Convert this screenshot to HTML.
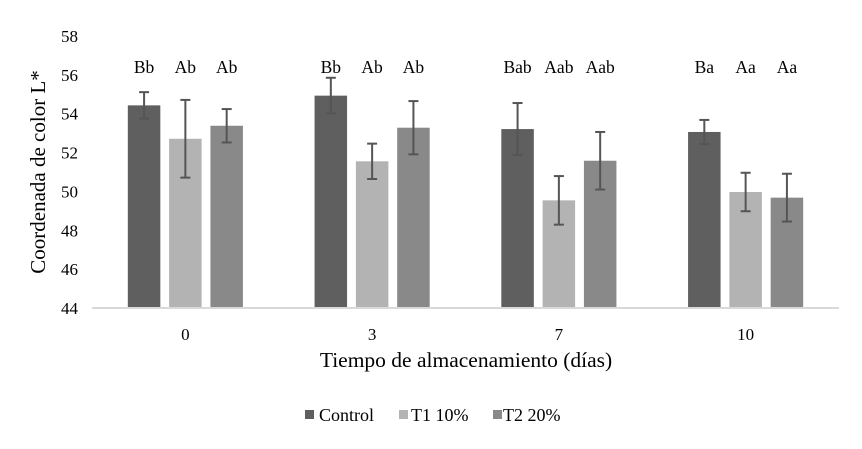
<!DOCTYPE html>
<html><head><meta charset="utf-8"><style>
html,body{margin:0;padding:0;background:#fff}
svg text{font-family:"Liberation Serif",serif;fill:#000}
</style></head><body>
<svg width="862" height="444" viewBox="0 0 862 444" id="chart">
<g id="yaxis"></g>
<g id="bars"></g>
<line x1="92" y1="308" x2="839" y2="308" stroke="#d9d9d9" stroke-width="2"/>
<g id="xlabels"></g>
<text x="45" y="172" font-size="21" text-anchor="middle" transform="rotate(-90 45 172)">Coordenada de color L*</text>
<text x="466" y="367" font-size="21.5" text-anchor="middle">Tiempo de almacenamiento (días)</text>
<g>
<g><rect x="305" y="410" width="9" height="9" fill="#5f5f5f"/><text x="319" y="421" font-size="18">Control</text></g>
<g><rect x="399" y="410" width="9" height="9" fill="#b3b3b3"/><text x="411" y="421" font-size="18">T1 10%</text></g>
<g><rect x="493" y="410" width="9" height="9" fill="#898989"/><text x="503" y="421" font-size="18">T2 20%</text></g>
</g>
</svg>
<script>
const categories = ["0","3","7","10"];
const seriesNames = ["Control","T1 10%","T2 20%"];
const controlValues = [54.43, 54.93, 53.21, 53.06];
const t1Values = [52.71, 51.55, 49.54, 49.97];
const t2Values = [53.38, 53.28, 51.58, 49.68];
const controlErr = [0.68, 0.92, 1.34, 0.62];
const t1Err = [2.0, 0.91, 1.25, 0.99];
const t2Err = [0.86, 1.37, 1.48, 1.23];
const controlLetters = ["Bb","Bb","Bab","Ba"];
const t1Letters = ["Ab","Ab","Aab","Aa"];
const t2Letters = ["Ab","Ab","Aab","Aa"];
const yTicks = [44,46,48,50,52,54,56,58];

const NS="http://www.w3.org/2000/svg";
const x0=92, x1=839, yMin=44, yMax=58, yB=308, yT=36;
const y = v => yB - (v - yMin) * (yB - yT) / (yMax - yMin);
const bandW = (x1 - x0) / categories.length;
const barW = 32.5, step = 41.3;
const colors = ["#5f5f5f","#b3b3b3","#898989"];
const vals = [controlValues, t1Values, t2Values];
const errs = [controlErr, t1Err, t2Err];
const lets = [controlLetters, t1Letters, t2Letters];
function mk(tag, attrs, parent){const e=document.createElementNS(NS,tag);for(const k in attrs)e.setAttribute(k,attrs[k]);parent.appendChild(e);return e;}
const ya=document.getElementById('yaxis');
yTicks.forEach(t=>{
  const e=mk('text',{x:78,y:y(t)+6,'font-size':17,'text-anchor':'end'},ya);
  
  
  e.textContent=t;
});
const bars=document.getElementById('bars'), xl=document.getElementById('xlabels');
categories.forEach((c,i)=>{
  const cx = x0 + bandW*(i+0.5);
  const lt=mk('text',{x:cx,y:340,'font-size':17,'text-anchor':'middle'},xl);
  
  
  lt.textContent=c;
  for(let s=0;s<3;s++){
    const bx = cx + (s-1)*step - barW/2;
    const v=vals[s][i], e=errs[s][i];
    const r=mk('rect',{x:bx,y:y(v),width:barW,height:yB-y(v),fill:colors[s]},bars);
    
    
    const mx=bx+barW/2;
    const g=mk('g',{stroke:'#555','stroke-width':2},bars);
    
    
    mk('line',{x1:mx,x2:mx,y1:y(v+e),y2:y(v-e)},g);
    mk('line',{x1:mx-5,x2:mx+5,y1:y(v+e),y2:y(v+e)},g);
    mk('line',{x1:mx-5,x2:mx+5,y1:y(v-e),y2:y(v-e)},g);
    const tl=mk('text',{x:mx,y:73,'font-size':17.5,'text-anchor':'middle'},bars);
    
    
    tl.textContent=lets[s][i];
  }
});
</script>
</body></html>
